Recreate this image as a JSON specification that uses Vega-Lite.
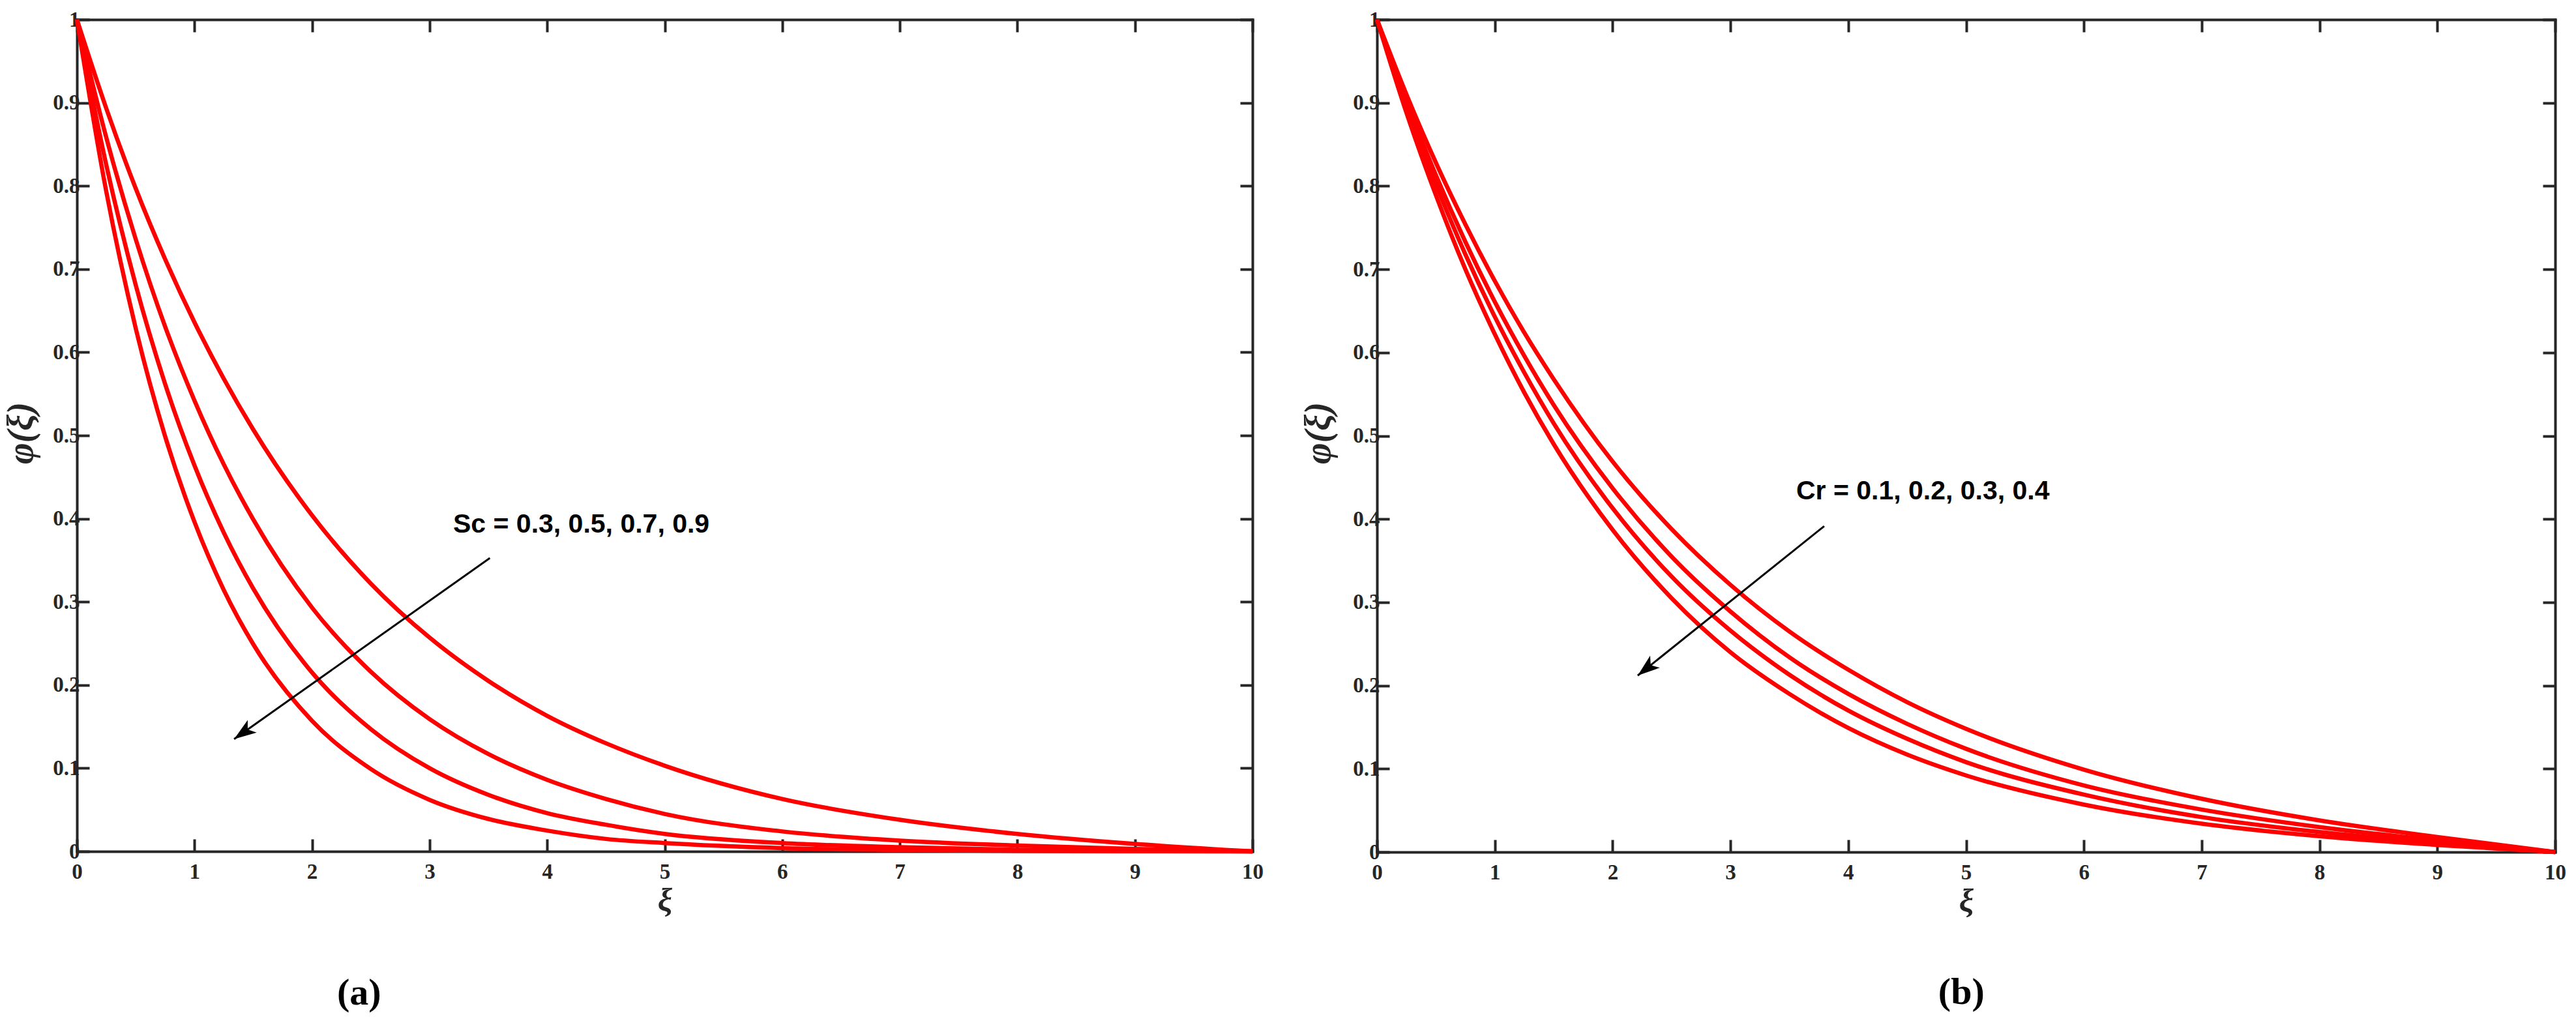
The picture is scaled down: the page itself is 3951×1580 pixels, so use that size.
{
  "$schema": "https://vega.github.io/schema/vega-lite/v6.json",
  "background": "white",
  "padding": {"left": 4, "top": 14, "right": 0, "bottom": 0},
  "bounds": "flush",
  "spacing": 191,
  "datasets": {
    "sc": [
      {"series":"Sc=0.3","xi":0,"phi":1},{"series":"Sc=0.3","xi":0.25,"phi":0.893},{"series":"Sc=0.3","xi":0.5,"phi":0.797},{"series":"Sc=0.3","xi":0.75,"phi":0.712},{"series":"Sc=0.3","xi":1,"phi":0.636},{"series":"Sc=0.3","xi":1.25,"phi":0.568},{"series":"Sc=0.3","xi":1.5,"phi":0.507},{"series":"Sc=0.3","xi":2,"phi":0.404},{"series":"Sc=0.3","xi":2.5,"phi":0.322},{"series":"Sc=0.3","xi":3,"phi":0.257},{"series":"Sc=0.3","xi":3.5,"phi":0.205},{"series":"Sc=0.3","xi":4,"phi":0.163},{"series":"Sc=0.3","xi":4.5,"phi":0.130},{"series":"Sc=0.3","xi":5,"phi":0.103},{"series":"Sc=0.3","xi":6,"phi":0.063},{"series":"Sc=0.3","xi":7,"phi":0.038},{"series":"Sc=0.3","xi":8,"phi":0.021},{"series":"Sc=0.3","xi":9,"phi":0.009},{"series":"Sc=0.3","xi":10,"phi":0},
      {"series":"Sc=0.5","xi":0,"phi":1},{"series":"Sc=0.5","xi":0.25,"phi":0.858},{"series":"Sc=0.5","xi":0.5,"phi":0.736},{"series":"Sc=0.5","xi":0.75,"phi":0.631},{"series":"Sc=0.5","xi":1,"phi":0.542},{"series":"Sc=0.5","xi":1.25,"phi":0.465},{"series":"Sc=0.5","xi":1.5,"phi":0.399},{"series":"Sc=0.5","xi":2,"phi":0.293},{"series":"Sc=0.5","xi":2.5,"phi":0.216},{"series":"Sc=0.5","xi":3,"phi":0.159},{"series":"Sc=0.5","xi":3.5,"phi":0.117},{"series":"Sc=0.5","xi":4,"phi":0.086},{"series":"Sc=0.5","xi":4.5,"phi":0.063},{"series":"Sc=0.5","xi":5,"phi":0.045},{"series":"Sc=0.5","xi":6,"phi":0.024},{"series":"Sc=0.5","xi":7,"phi":0.013},{"series":"Sc=0.5","xi":8,"phi":0.007},{"series":"Sc=0.5","xi":9,"phi":0.003},{"series":"Sc=0.5","xi":10,"phi":0},
      {"series":"Sc=0.7","xi":0,"phi":1},{"series":"Sc=0.7","xi":0.25,"phi":0.825},{"series":"Sc=0.7","xi":0.5,"phi":0.681},{"series":"Sc=0.7","xi":0.75,"phi":0.562},{"series":"Sc=0.7","xi":1,"phi":0.464},{"series":"Sc=0.7","xi":1.25,"phi":0.383},{"series":"Sc=0.7","xi":1.5,"phi":0.316},{"series":"Sc=0.7","xi":2,"phi":0.215},{"series":"Sc=0.7","xi":2.5,"phi":0.147},{"series":"Sc=0.7","xi":3,"phi":0.100},{"series":"Sc=0.7","xi":3.5,"phi":0.068},{"series":"Sc=0.7","xi":4,"phi":0.046},{"series":"Sc=0.7","xi":4.5,"phi":0.032},{"series":"Sc=0.7","xi":5,"phi":0.021},{"series":"Sc=0.7","xi":6,"phi":0.010},{"series":"Sc=0.7","xi":7,"phi":0.005},{"series":"Sc=0.7","xi":8,"phi":0.002},{"series":"Sc=0.7","xi":9,"phi":0.001},{"series":"Sc=0.7","xi":10,"phi":0},
      {"series":"Sc=0.9","xi":0,"phi":1},{"series":"Sc=0.9","xi":0.25,"phi":0.793},{"series":"Sc=0.9","xi":0.5,"phi":0.629},{"series":"Sc=0.9","xi":0.75,"phi":0.499},{"series":"Sc=0.9","xi":1,"phi":0.396},{"series":"Sc=0.9","xi":1.25,"phi":0.314},{"series":"Sc=0.9","xi":1.5,"phi":0.249},{"series":"Sc=0.9","xi":2,"phi":0.157},{"series":"Sc=0.9","xi":2.5,"phi":0.099},{"series":"Sc=0.9","xi":3,"phi":0.062},{"series":"Sc=0.9","xi":3.5,"phi":0.039},{"series":"Sc=0.9","xi":4,"phi":0.025},{"series":"Sc=0.9","xi":4.5,"phi":0.015},{"series":"Sc=0.9","xi":5,"phi":0.010},{"series":"Sc=0.9","xi":6,"phi":0.004},{"series":"Sc=0.9","xi":7,"phi":0.0015},{"series":"Sc=0.9","xi":8,"phi":0.0006},{"series":"Sc=0.9","xi":9,"phi":0.0002},{"series":"Sc=0.9","xi":10,"phi":0}
    ],
    "cr": [
      {"series":"Cr=0.1","xi":0,"phi":1},{"series":"Cr=0.1","xi":0.25,"phi":0.910},{"series":"Cr=0.1","xi":0.5,"phi":0.828},{"series":"Cr=0.1","xi":0.75,"phi":0.754},{"series":"Cr=0.1","xi":1,"phi":0.686},{"series":"Cr=0.1","xi":1.25,"phi":0.624},{"series":"Cr=0.1","xi":1.5,"phi":0.568},{"series":"Cr=0.1","xi":2,"phi":0.469},{"series":"Cr=0.1","xi":2.5,"phi":0.388},{"series":"Cr=0.1","xi":3,"phi":0.321},{"series":"Cr=0.1","xi":3.5,"phi":0.265},{"series":"Cr=0.1","xi":4,"phi":0.219},{"series":"Cr=0.1","xi":4.5,"phi":0.180},{"series":"Cr=0.1","xi":5,"phi":0.148},{"series":"Cr=0.1","xi":6,"phi":0.099},{"series":"Cr=0.1","xi":7,"phi":0.064},{"series":"Cr=0.1","xi":8,"phi":0.038},{"series":"Cr=0.1","xi":9,"phi":0.018},{"series":"Cr=0.1","xi":10,"phi":0},
      {"series":"Cr=0.2","xi":0,"phi":1},{"series":"Cr=0.2","xi":0.25,"phi":0.902},{"series":"Cr=0.2","xi":0.5,"phi":0.813},{"series":"Cr=0.2","xi":0.75,"phi":0.733},{"series":"Cr=0.2","xi":1,"phi":0.661},{"series":"Cr=0.2","xi":1.25,"phi":0.596},{"series":"Cr=0.2","xi":1.5,"phi":0.537},{"series":"Cr=0.2","xi":2,"phi":0.437},{"series":"Cr=0.2","xi":2.5,"phi":0.355},{"series":"Cr=0.2","xi":3,"phi":0.289},{"series":"Cr=0.2","xi":3.5,"phi":0.234},{"series":"Cr=0.2","xi":4,"phi":0.190},{"series":"Cr=0.2","xi":4.5,"phi":0.154},{"series":"Cr=0.2","xi":5,"phi":0.124},{"series":"Cr=0.2","xi":6,"phi":0.080},{"series":"Cr=0.2","xi":7,"phi":0.051},{"series":"Cr=0.2","xi":8,"phi":0.030},{"series":"Cr=0.2","xi":9,"phi":0.014},{"series":"Cr=0.2","xi":10,"phi":0},
      {"series":"Cr=0.3","xi":0,"phi":1},{"series":"Cr=0.3","xi":0.25,"phi":0.895},{"series":"Cr=0.3","xi":0.5,"phi":0.802},{"series":"Cr=0.3","xi":0.75,"phi":0.718},{"series":"Cr=0.3","xi":1,"phi":0.643},{"series":"Cr=0.3","xi":1.25,"phi":0.576},{"series":"Cr=0.3","xi":1.5,"phi":0.515},{"series":"Cr=0.3","xi":2,"phi":0.413},{"series":"Cr=0.3","xi":2.5,"phi":0.331},{"series":"Cr=0.3","xi":3,"phi":0.266},{"series":"Cr=0.3","xi":3.5,"phi":0.213},{"series":"Cr=0.3","xi":4,"phi":0.170},{"series":"Cr=0.3","xi":4.5,"phi":0.136},{"series":"Cr=0.3","xi":5,"phi":0.108},{"series":"Cr=0.3","xi":6,"phi":0.069},{"series":"Cr=0.3","xi":7,"phi":0.042},{"series":"Cr=0.3","xi":8,"phi":0.024},{"series":"Cr=0.3","xi":9,"phi":0.011},{"series":"Cr=0.3","xi":10,"phi":0},
      {"series":"Cr=0.4","xi":0,"phi":1},{"series":"Cr=0.4","xi":0.25,"phi":0.888},{"series":"Cr=0.4","xi":0.5,"phi":0.789},{"series":"Cr=0.4","xi":0.75,"phi":0.700},{"series":"Cr=0.4","xi":1,"phi":0.622},{"series":"Cr=0.4","xi":1.25,"phi":0.552},{"series":"Cr=0.4","xi":1.5,"phi":0.490},{"series":"Cr=0.4","xi":2,"phi":0.387},{"series":"Cr=0.4","xi":2.5,"phi":0.305},{"series":"Cr=0.4","xi":3,"phi":0.240},{"series":"Cr=0.4","xi":3.5,"phi":0.190},{"series":"Cr=0.4","xi":4,"phi":0.149},{"series":"Cr=0.4","xi":4.5,"phi":0.117},{"series":"Cr=0.4","xi":5,"phi":0.092},{"series":"Cr=0.4","xi":6,"phi":0.057},{"series":"Cr=0.4","xi":7,"phi":0.034},{"series":"Cr=0.4","xi":8,"phi":0.019},{"series":"Cr=0.4","xi":9,"phi":0.0085},{"series":"Cr=0.4","xi":10,"phi":0}
    ],
    "arrowA": [{"xs":3.513,"ys":0.3527,"xe":1.337,"ye":0.135}],
    "arrowB": [{"xs":3.796,"ys":0.3915,"xe":2.213,"ye":0.212}],
    "textA": [{"label":"Sc = 0.3, 0.5, 0.7, 0.9","xi":3.2,"phi":0.383}],
    "textB": [{"label":"Cr = 0.1, 0.2, 0.3, 0.4","xi":3.558,"phi":0.4237}],
    "capA": [{"label":"(a)","xi":2.40,"phi":-0.171}],
    "capB": [{"label":"(b)","xi":4.96,"phi":-0.169}]
  },
  "hconcat": [
    {
      "width": 1803,
      "height": 1276,
      "layer": [
        {
          "data": {"name": "sc"},
          "mark": {"type": "line", "color": "#ff0000", "strokeWidth": 6.5, "interpolate": "monotone"},
          "encoding": {
            "x": {"field": "xi", "type": "quantitative", "scale": {"domain": [0, 10], "nice": false},
                  "axis": {"values": [0,1,2,3,4,5,6,7,8,9,10], "title": "ξ", "labelPadding": 34, "titlePadding": 3}},
            "y": {"field": "phi", "type": "quantitative", "scale": {"domain": [0, 1], "nice": false},
                  "axis": {"values": [0,0.1,0.2,0.3,0.4,0.5,0.6,0.7,0.8,0.9,1], "format": "~g", "title": "φ(ξ)", "labelPadding": 15,
                           "titleFontSize": 56, "titleX": -86, "titleY": 634, "titleBaseline": "middle", "titleAngle": 270}},
            "detail": {"field": "series", "type": "nominal"}
          }
        },
        {
          "data": {"name": "arrowA"},
          "mark": {"type": "rule", "color": "#000000", "strokeWidth": 3},
          "encoding": {
            "x": {"field": "xs", "type": "quantitative",
                  "axis": {"orient": "top", "labels": false, "title": null, "values": [0,1,2,3,4,5,6,7,8,9,10]}},
            "x2": {"field": "xe"},
            "y": {"field": "ys", "type": "quantitative",
                  "axis": {"orient": "right", "labels": false, "title": null, "values": [0,0.1,0.2,0.3,0.4,0.5,0.6,0.7,0.8,0.9,1]}},
            "y2": {"field": "ye"}
          }
        },
        {
          "data": {"name": "arrowA"},
          "mark": {"type": "point", "shape": "M0,0L0.7,2L0,1.5L-0.7,2Z", "size": 1156, "filled": true, "color": "#000000", "opacity": 1, "strokeWidth": 0, "angle": 234.7},
          "encoding": {
            "x": {"field": "xe", "type": "quantitative", "axis": null},
            "y": {"field": "ye", "type": "quantitative", "axis": null}
          }
        },
        {
          "data": {"name": "textA"},
          "mark": {"type": "text", "font": "Liberation Sans", "fontWeight": "bold", "fontSize": 41, "align": "left", "baseline": "alphabetic", "color": "#000000"},
          "encoding": {
            "x": {"field": "xi", "type": "quantitative", "axis": null},
            "y": {"field": "phi", "type": "quantitative", "axis": null},
            "text": {"field": "label"}
          }
        },
        {
          "data": {"name": "capA"},
          "mark": {"type": "text", "font": "Liberation Serif", "fontWeight": "bold", "fontSize": 58, "align": "center", "baseline": "middle", "color": "#000000"},
          "encoding": {
            "x": {"field": "xi", "type": "quantitative", "axis": null},
            "y": {"field": "phi", "type": "quantitative", "axis": null},
            "text": {"field": "label"}
          }
        }
      ],
      "resolve": {"axis": {"x": "independent", "y": "independent"}}
    },
    {
      "width": 1807,
      "height": 1277,
      "layer": [
        {
          "data": {"name": "cr"},
          "mark": {"type": "line", "color": "#ff0000", "strokeWidth": 6.5, "interpolate": "monotone"},
          "encoding": {
            "x": {"field": "xi", "type": "quantitative", "scale": {"domain": [0, 10], "nice": false},
                  "axis": {"values": [0,1,2,3,4,5,6,7,8,9,10], "title": "ξ", "labelPadding": 34, "titlePadding": 3}},
            "y": {"field": "phi", "type": "quantitative", "scale": {"domain": [0, 1], "nice": false},
                  "axis": {"values": [0,0.1,0.2,0.3,0.4,0.5,0.6,0.7,0.8,0.9,1], "format": "~g", "title": "φ(ξ)", "labelPadding": 15,
                           "titleFontSize": 56, "titleX": -90, "titleY": 634, "titleBaseline": "middle", "titleAngle": 270}},
            "detail": {"field": "series", "type": "nominal"}
          }
        },
        {
          "data": {"name": "arrowB"},
          "mark": {"type": "rule", "color": "#000000", "strokeWidth": 3},
          "encoding": {
            "x": {"field": "xs", "type": "quantitative",
                  "axis": {"orient": "top", "labels": false, "title": null, "values": [0,1,2,3,4,5,6,7,8,9,10]}},
            "x2": {"field": "xe"},
            "y": {"field": "ys", "type": "quantitative",
                  "axis": {"orient": "right", "labels": false, "title": null, "values": [0,0.1,0.2,0.3,0.4,0.5,0.6,0.7,0.8,0.9,1]}},
            "y2": {"field": "ye"}
          }
        },
        {
          "data": {"name": "arrowB"},
          "mark": {"type": "point", "shape": "M0,0L0.7,2L0,1.5L-0.7,2Z", "size": 1156, "filled": true, "color": "#000000", "opacity": 1, "strokeWidth": 0, "angle": 231.3},
          "encoding": {
            "x": {"field": "xe", "type": "quantitative", "axis": null},
            "y": {"field": "ye", "type": "quantitative", "axis": null}
          }
        },
        {
          "data": {"name": "textB"},
          "mark": {"type": "text", "font": "Liberation Sans", "fontWeight": "bold", "fontSize": 41, "align": "left", "baseline": "alphabetic", "color": "#000000"},
          "encoding": {
            "x": {"field": "xi", "type": "quantitative", "axis": null},
            "y": {"field": "phi", "type": "quantitative", "axis": null},
            "text": {"field": "label"}
          }
        },
        {
          "data": {"name": "capB"},
          "mark": {"type": "text", "font": "Liberation Serif", "fontWeight": "bold", "fontSize": 58, "align": "center", "baseline": "middle", "color": "#000000"},
          "encoding": {
            "x": {"field": "xi", "type": "quantitative", "axis": null},
            "y": {"field": "phi", "type": "quantitative", "axis": null},
            "text": {"field": "label"}
          }
        }
      ],
      "resolve": {"axis": {"x": "independent", "y": "independent"}}
    }
  ],
  "config": {
    "view": {"stroke": null},
    "axis": {
      "grid": false,
      "domainColor": "#262626",
      "domainWidth": 4,
      "domainCap": "square",
      "tickColor": "#262626",
      "tickWidth": 4,
      "tickSize": -19,
      "labelFont": "Liberation Serif",
      "labelFontWeight": "bold",
      "labelFontSize": 33,
      "labelColor": "#262626",
      "labelPadding": 13,
      "labelFlush": false,
      "labelOverlap": false,
      "titleFont": "Liberation Serif",
      "titleFontStyle": "italic",
      "titleFontWeight": "bold",
      "titleFontSize": 50,
      "titleColor": "#262626",
      "titlePadding": 8
    }
  }
}
